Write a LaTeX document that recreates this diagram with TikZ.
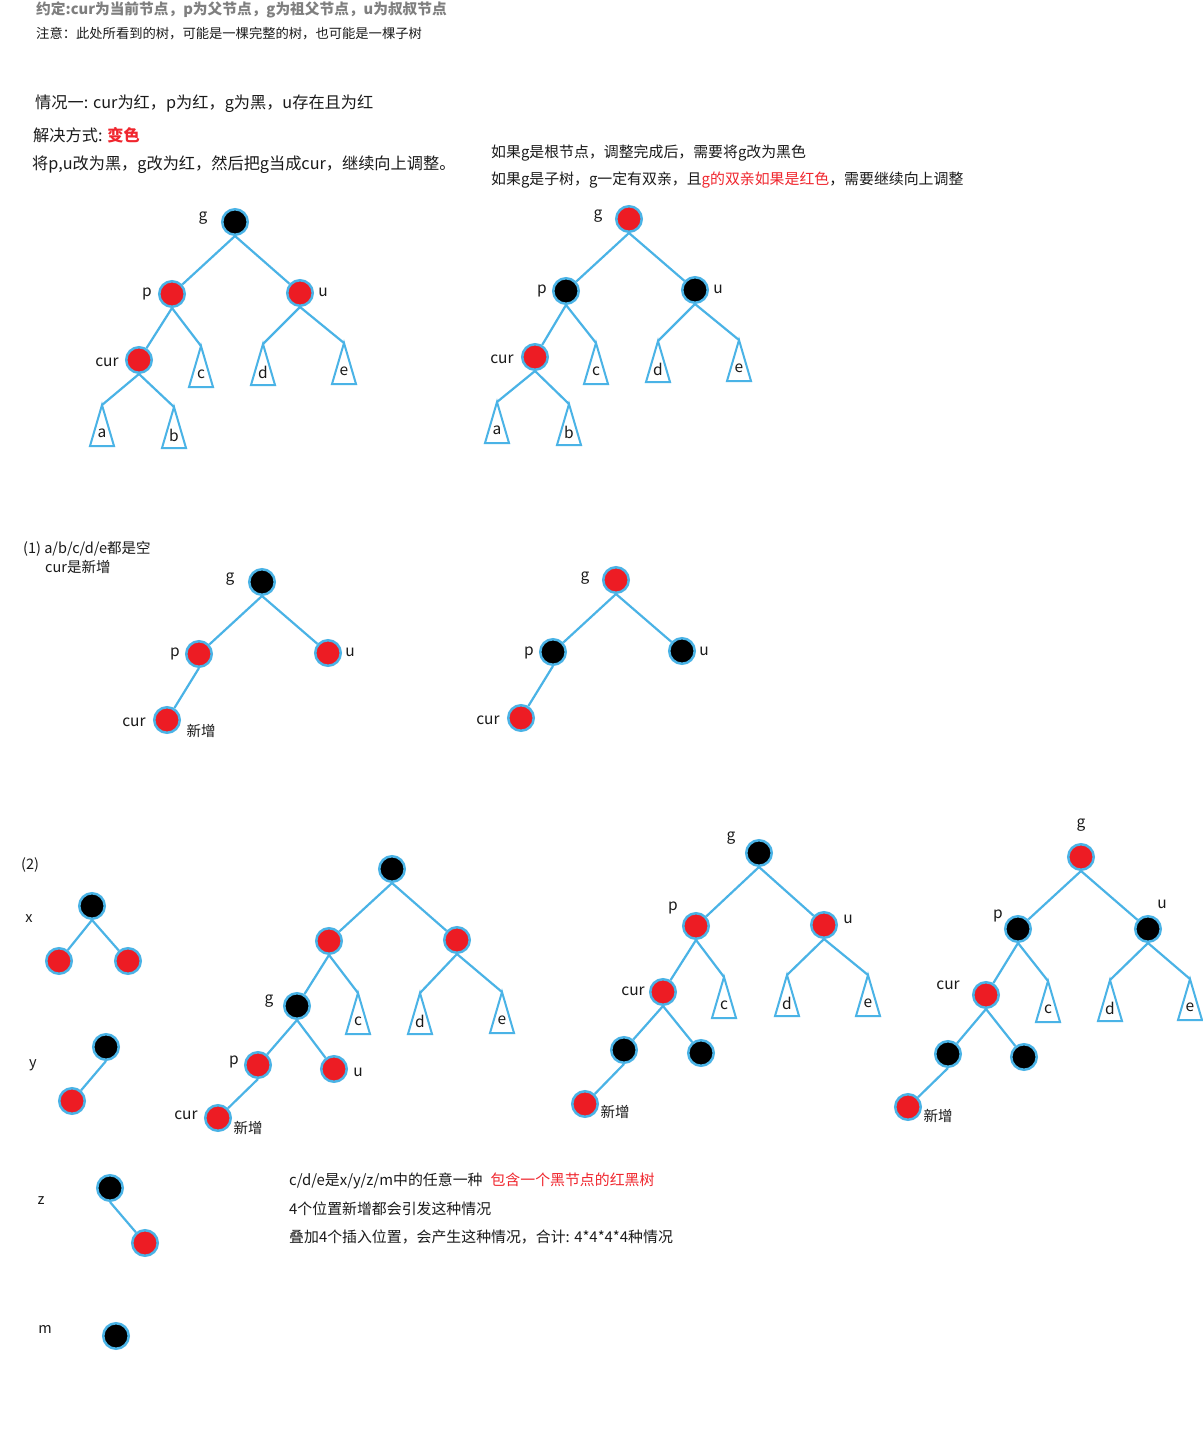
\documentclass[tikz,border=0pt]{standalone}
\usepackage{fontspec}
\setmainfont{Noto Sans CJK SC}
\usetikzlibrary{calc}
\definecolor{lblue}{HTML}{4AB3E6}
\definecolor{nred}{HTML}{ED1C24}
\definecolor{tgray}{HTML}{7F7F7F}
\definecolor{txt}{HTML}{1A1A1A}
\definecolor{tred}{HTML}{F0262E}
\tikzset{
  rb/.style={circle, minimum size=25.5pt, inner sep=0pt, draw=lblue, line width=2.5pt},
  rn/.style={rb, fill=nred},
  bn/.style={rb, fill=black},
  edge/.style={draw=lblue, line width=2.2pt},
  tri/.style={draw=lblue, line width=2pt, fill=white, line join=miter},
  lab/.style={inner sep=0pt, text=txt, font=\fontsize{15.5}{18}\selectfont},
  tl/.style={inner sep=0pt, anchor=west, text=txt, font=\fontsize{16.2}{19}\selectfont},
  ts/.style={inner sep=0pt, anchor=west, text=txt, font=\fontsize{14.9}{17}\selectfont},
}
\newcommand\subt[3]{%
  \coordinate (#1) at #2;
  \draw[tri] (#1) -- ++(-12,41) -- ++(24,0) -- cycle;
  \node[lab] at ($(#1)+(0,28)$) {#3};
}
\begin{document}
\begin{tikzpicture}[x=1pt,y=-1pt]
\useasboundingbox (0,0) rectangle (1202,1447);
\fill[white] (0,0) rectangle (1202,1447);

% ---- header texts
\node[inner sep=0pt, anchor=west, text=tgray, font=\fontsize{14.7}{17}\selectfont\bfseries] (t1) at (36,10) {约定:cur为当前节点，p为父节点，g为祖父节点，u为叔叔节点};
\node[inner sep=0pt, anchor=west, text=txt, font=\fontsize{13.3}{16}\selectfont] (t2) at (36,34) {注意：此处所看到的树，可能是一棵完整的树，也可能是一棵子树};
\node[tl] (t3) at (35,104) {情况一: cur为红，p为红，g为黑，u存在且为红};
\node[tl] (t4) at (33,135) {解决方式: \textcolor{tred}{\bfseries 变色}};
\node[tl] (t5) at (32,165) {将p,u改为黑，g改为红，然后把g当成cur，继续向上调整。};
\node[ts] (t6) at (491,153) {如果g是根节点，调整完成后，需要将g改为黑色};
\node[ts] (t7) at (491,180) {如果g是子树，g一定有双亲，且\textcolor{tred}{g的双亲如果是红色}，需要继续向上调整};

% ---- tree 1
\node[bn] (g1) at (235,222) {};
\node[rn] (p1) at (172,294) {};
\node[rn] (u1) at (300,293) {};
\node[rn] (c1) at (139,360) {};
\subt{tc1}{(201,346)}{c}
\subt{td1}{(263,344)}{d}
\subt{te1}{(344,343)}{e}
\subt{ta1}{(102,405)}{a}
\subt{tb1}{(174,407)}{b}
\draw[edge] (g1.south) -- (p1); \draw[edge] (g1.south) -- (u1);
\draw[edge] (p1.south) -- (c1); \draw[edge] (p1.south) -- (tc1);
\draw[edge] (u1.south) -- (td1); \draw[edge] (u1.south) -- (te1);
\draw[edge] (c1.south) -- (ta1); \draw[edge] (c1.south) -- (tb1);
\node[lab] (lg1) at (203,218) {g};
\node[lab] (lp1) at (147,294) {p};
\node[lab] (lu1) at (323,292) {u};
\node[lab] (lc1) at (107,362) {cur};

% ---- tree 2
\node[rn] (g2) at (629,219) {};
\node[bn] (p2) at (566,291) {};
\node[bn] (u2) at (695,290) {};
\node[rn] (c2) at (535,357) {};
\subt{tc2}{(596,343)}{c}
\subt{td2}{(658,341)}{d}
\subt{te2}{(739,340)}{e}
\subt{ta2}{(497,402)}{a}
\subt{tb2}{(569,404)}{b}
\draw[edge] (g2.south) -- (p2); \draw[edge] (g2.south) -- (u2);
\draw[edge] (p2.south) -- (c2); \draw[edge] (p2.south) -- (tc2);
\draw[edge] (u2.south) -- (td2); \draw[edge] (u2.south) -- (te2);
\draw[edge] (c2.south) -- (ta2); \draw[edge] (c2.south) -- (tb2);
\node[lab] (lg2) at (598,216) {g};
\node[lab] (lp2) at (542,291) {p};
\node[lab] (lu2) at (718,289) {u};
\node[lab] (lc2) at (502,359) {cur};

% ---- section (1)
\node[inner sep=0pt, anchor=west, text=txt, font=\fontsize{14.5}{17}\selectfont] (s1a) at (23,549) {(1) a/b/c/d/e都是空};
\node[inner sep=0pt, anchor=west, text=txt, font=\fontsize{14.5}{17}\selectfont] (s1b) at (45,567) {cur是新增};

\node[bn] (g3) at (262,582) {};
\node[rn] (p3) at (199,654) {};
\node[rn] (u3) at (328,653) {};
\node[rn] (c3) at (167,720) {};
\draw[edge] (g3.south) -- (p3); \draw[edge] (g3.south) -- (u3); \draw[edge] (c3) -- (p3.south);
\node[lab] (lg3) at (230,579) {g};
\node[lab] (lp3) at (175,654) {p};
\node[lab] (lu3) at (350,652) {u};
\node[lab] (lc3) at (134,722) {cur};
\node[lab, font=\fontsize{14.5}{17}\selectfont] (ln3) at (201,731) {新增};

\node[rn] (g4) at (616,580) {};
\node[bn] (p4) at (553,652) {};
\node[bn] (u4) at (682,651) {};
\node[rn] (c4) at (521,718) {};
\draw[edge] (g4.south) -- (p4); \draw[edge] (g4.south) -- (u4); \draw[edge] (c4) -- (p4.south);
\node[lab] (lg4) at (585,578) {g};
\node[lab] (lp4) at (529,653) {p};
\node[lab] (lu4) at (704,651) {u};
\node[lab] (lc4) at (488,720) {cur};

% ---- section (2)
\node[inner sep=0pt, anchor=west, text=txt, font=\fontsize{14.5}{17}\selectfont] (s2) at (21,865) {(2)};
\node[lab, font=\fontsize{14.5}{17}\selectfont] (lx) at (29,919) {x};
\node[lab, font=\fontsize{14.5}{17}\selectfont] (ly) at (33,1065) {y};
\node[lab, font=\fontsize{14.5}{17}\selectfont] (lz) at (41,1201) {z};
\node[lab, font=\fontsize{14.5}{17}\selectfont] (lm) at (45,1329) {m};

\node[bn] (x0) at (92,906) {};
\node[rn] (x1) at (59,961) {};
\node[rn] (x2) at (128,961) {};
\draw[edge] (x0.south) -- (x1); \draw[edge] (x0.south) -- (x2);
\node[bn] (y0) at (106,1047) {};
\node[rn] (y1) at (72,1101) {};
\draw[edge] (y1) -- (y0.south);
\node[bn] (z0) at (110,1188) {};
\node[rn] (z1) at (145,1243) {};
\draw[edge] (z0.south) -- (z1);
\node[bn] (m0) at (116,1336) {};

% tree 3
\node[bn] (r5) at (392,869) {};
\node[rn] (a5) at (329,941) {};
\node[rn] (b5) at (457,940) {};
\node[bn] (g5) at (297,1006) {};
\node[rn] (p5) at (258,1065) {};
\node[rn] (u5) at (334,1069) {};
\node[rn] (c5) at (218,1118) {};
\subt{tc5}{(358,993)}{c}
\subt{td5}{(420,993)}{d}
\subt{te5}{(502,992)}{e}
\draw[edge] (r5.south) -- (a5); \draw[edge] (r5.south) -- (b5);
\draw[edge] (a5.south) -- (g5); \draw[edge] (a5.south) -- (tc5);
\draw[edge] (b5.south) -- (td5); \draw[edge] (b5.south) -- (te5);
\draw[edge] (g5.south) -- (p5); \draw[edge] (g5.south) -- (u5);
\draw[edge] (c5) -- (p5.south);
\node[lab] (lg5) at (269,1001) {g};
\node[lab] (lp5) at (234,1062) {p};
\node[lab] (lu5) at (358,1072) {u};
\node[lab] (lc5) at (186,1115) {cur};
\node[lab, font=\fontsize{14.5}{17}\selectfont] (ln5) at (248,1128) {新增};

% tree 4
\node[bn] (g6) at (759,853) {};
\node[rn] (p6) at (696,926) {};
\node[rn] (u6) at (824,925) {};
\node[rn] (c6) at (663,992) {};
\node[bn] (k6) at (624,1050) {};
\node[bn] (j6) at (701,1053) {};
\node[rn] (n6) at (585,1104) {};
\subt{tc6}{(724,977)}{c}
\subt{td6}{(787,975)}{d}
\subt{te6}{(868,975)}{e}
\draw[edge] (g6.south) -- (p6); \draw[edge] (g6.south) -- (u6);
\draw[edge] (p6.south) -- (c6); \draw[edge] (p6.south) -- (tc6);
\draw[edge] (u6.south) -- (td6); \draw[edge] (u6.south) -- (te6);
\draw[edge] (c6.south) -- (k6); \draw[edge] (c6.south) -- (j6);
\draw[edge] (n6) -- (k6.south);
\node[lab] (lg6) at (731,838) {g};
\node[lab] (lp6) at (673,908) {p};
\node[lab] (lu6) at (848,919) {u};
\node[lab] (lc6) at (633,991) {cur};
\node[lab, font=\fontsize{14.5}{17}\selectfont] (ln6) at (615,1112) {新增};

% tree 5
\node[rn] (g7) at (1081,857) {};
\node[bn] (p7) at (1018,929) {};
\node[bn] (u7) at (1148,929) {};
\node[rn] (c7) at (986,995) {};
\node[bn] (k7) at (948,1054) {};
\node[bn] (j7) at (1024,1057) {};
\node[rn] (n7) at (908,1107) {};
\subt{tc7}{(1048,981)}{c}
\subt{td7}{(1110,980)}{d}
\subt{te7}{(1190,979)}{e}
\draw[edge] (g7.south) -- (p7); \draw[edge] (g7.south) -- (u7);
\draw[edge] (p7.south) -- (c7); \draw[edge] (p7.south) -- (tc7);
\draw[edge] (u7.south) -- (td7); \draw[edge] (u7.south) -- (te7);
\draw[edge] (c7.south) -- (k7); \draw[edge] (c7.south) -- (j7);
\draw[edge] (n7) -- (k7.south);
\node[lab] (lg7) at (1081,825) {g};
\node[lab] (lp7) at (998,916) {p};
\node[lab] (lu7) at (1162,904) {u};
\node[lab] (lc7) at (948,985) {cur};
\node[lab, font=\fontsize{14.5}{17}\selectfont] (ln7) at (938,1116) {新增};

% bottom texts
\node[ts] (b1) at (289,1181) {c/d/e是x/y/z/m中的任意一种\hspace{8pt}\textcolor{tred}{包含一个黑节点的红黑树}};
\node[ts] (b2) at (289,1209) {4个位置新增都会引发这种情况};
\node[ts] (b3) at (289,1237) {叠加4个插入位置，会产生这种情况，合计: 4*4*4*4种情况};
\end{tikzpicture}
\end{document}
